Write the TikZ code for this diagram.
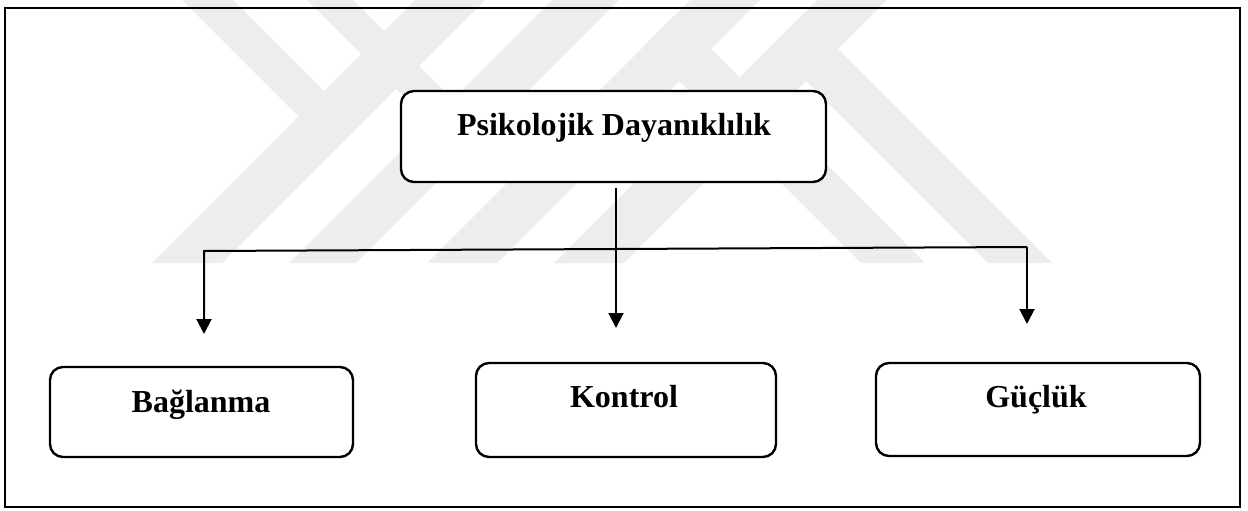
\documentclass[tikz,border=0pt]{standalone}
\usepackage{fontspec}
\setmainfont{Liberation Serif}
\usetikzlibrary{arrows.meta}
\begin{document}
\begin{tikzpicture}[x=1pt,y=-1pt,
  wm/.style={fill=black!7,draw=none},
  frame/.style={line width=2pt},
  box/.style={draw,rounded corners=13pt,line width=2.4pt,fill=white,inner sep=0pt},
  lbl/.style={font=\bfseries\fontsize{32}{38}\selectfont,anchor=base,inner sep=0pt},
  arr/.style={line width=2pt,-{Triangle[width=15pt,length=15pt]}}]
\useasboundingbox (0,0) rectangle (1248,511);
% watermark bands
\fill[wm] (415,0) -- (485,0) -- (222,263) -- (152,263) -- cycle;
\fill[wm] (552,0) -- (619,0) -- (356,263) -- (289,263) -- cycle;
\fill[wm] (690,0) -- (760,0) -- (497,263) -- (427,263) -- cycle;
\fill[wm] (817,0) -- (887,0) -- (624,263) -- (554,263) -- cycle;
\fill[wm] (182,0) -- (233,0) -- (359,126) -- (333.5,151.5) -- cycle;
\fill[wm] (307,0) -- (353,0) -- (486,133) -- (463,156) -- cycle;
\fill[wm] (676,14) -- (925,263) -- (861,263) -- (644,46) -- cycle;
\fill[wm] (803,14) -- (1052,263) -- (988,263) -- (771,46) -- cycle;
% frame
\draw[frame] (5,8) rectangle (1240,507);
% boxes
\node[box,minimum width=425pt,minimum height=91pt] (top) at (613.5,136.5) {};
\node[box,minimum width=303pt,minimum height=90pt] (bag) at (201.5,412) {};
\node[box,minimum width=300pt,minimum height=94pt] (kon) at (626,410) {};
\node[box,minimum width=324pt,minimum height=93pt] (guc) at (1038,409.5) {};
% labels
\node[lbl] (toptext) at (614,135) {Psikolojik Dayanıklılık};
\node[lbl] (bagtext) at (201,412) {Bağlanma};
\node[lbl] (kontext) at (624,407) {Kontrol};
\node[lbl] (guctext) at (1036,407) {Güçlük};
% connectors
\coordinate (kend) at (616,328);
\coordinate (hl) at (204,251);
\coordinate (hr) at (1027,247);
\coordinate (bend) at (204,334);
\coordinate (gend) at (1027,324);
\draw[arr,shorten <=5pt] (top.south -| kend) -- (kend);
\draw[arr] (hr) -- (hl) -- (bend);
\draw[arr] (hr) -- (gend);
\end{tikzpicture}
\end{document}
